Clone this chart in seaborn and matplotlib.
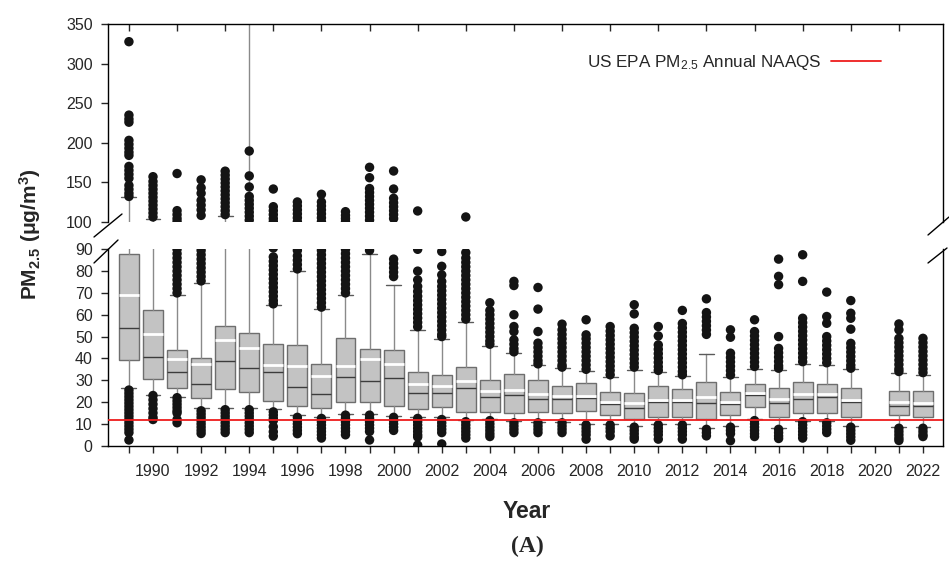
import matplotlib
matplotlib.use("Agg")
import matplotlib.pyplot as plt
from matplotlib.lines import Line2D
import seaborn as sns
import pandas as pd

# ---------------- data ----------------
years = [1989, 1990, 1991, 1992, 1993, 1994, 1995, 1996, 1997, 1998, 1999, 2000,
         2001, 2002, 2003, 2004, 2005, 2006, 2007, 2008, 2009, 2010, 2011, 2012,
         2013, 2014, 2015, 2016, 2017, 2018, 2019, 2021, 2022]
q1 = [39.3, 30.4, 26.3, 21.7, 25.8, 24.4, 20.6, 18.3, 17.1, 19.8, 19.8, 18.2,
      16.8, 17.9, 15.6, 15.3, 14.8, 15.3, 14.8, 15.9, 14.0, 12.2, 13.0, 13.3,
      12.2, 14.0, 17.9, 13.0, 14.8, 14.8, 13.0, 14.0, 13.0]
medians = [54.1, 40.7, 33.6, 28.3, 38.7, 35.5, 33.6, 26.7, 23.7, 31.3, 29.8, 31.2,
           24.0, 24.0, 26.3, 22.3, 23.2, 21.4, 21.4, 22.0, 19.1, 17.1, 19.9, 19.9,
           19.4, 19.3, 23.2, 19.5, 21.3, 22.5, 20.1, 18.3, 18.3]
q3 = [87.8, 62.2, 43.7, 40.0, 54.9, 51.5, 46.5, 46.0, 37.3, 49.2, 44.3, 43.9,
      33.9, 32.4, 35.9, 30.0, 32.9, 30.0, 27.4, 28.6, 24.8, 24.0, 27.4, 25.8,
      29.1, 24.8, 28.3, 26.3, 29.1, 28.1, 26.3, 25.1, 25.1]
means = [69.1, 51.1, 39.6, 37.3, 48.5, 44.6, 37.0, 36.5, 31.9, 36.7, 39.6, 37.3,
         28.3, 27.5, 29.6, 25.2, 25.5, 23.5, 22.6, 22.7, 20.2, 19.7, 20.9, 20.9,
         22.2, 20.0, 24.0, 21.6, 23.5, 23.5, 20.9, 20.2, 19.7]
whisker_low = [26.3, 23.2, 22.5, 17.1, 17.5, 17.5, 16.6, 14.0, 13.2, 14.5, 14.5, 13.6,
               13.0, 13.0, 11.7, 12.2, 11.3, 11.0, 11.0, 9.9, 9.9, 9.0, 9.9, 9.9,
               7.9, 9.0, 12.2, 7.9, 11.4, 11.3, 9.0, 8.7, 8.7]
whisker_high = [131.0, 103.4, 69.1, 74.5, 107.6, 400.0, 64.5, 79.9, 62.6, 69.1, 88.0, 73.7,
                53.1, 49.1, 56.9, 45.8, 42.4, 37.0, 35.5, 34.4, 31.3, 34.7, 33.9, 32.1,
                42.1, 31.3, 35.0, 34.8, 37.5, 37.0, 35.0, 33.2, 32.4]

outliers_high = [
    [328, 235, 230, 226, 203, 198, 193, 188, 184, 170, 165, 160, 155, 146, 141, 136, 132],
    [157, 151, 146, 141, 136, 131, 126, 121, 116, 111, 106],
    [70, 72, 74, 76, 78, 80, 82, 84, 86, 88, 90, 100, 104, 109, 114, 161],
    [75.5, 77.5, 79.5, 81.5, 83.5, 85.5, 87.5, 89.5, 108, 115, 121, 127, 136, 143, 153],
    [109, 114, 119, 124, 129, 134, 139, 144, 149, 154, 159, 164],
    [102, 107, 112, 117, 122, 127, 132, 144, 158, 189.5],
    [65, 66.5, 68.5, 70.5, 72.5, 74.5, 76.5, 78.5, 80.5, 82.5, 84.5, 86.5, 90.6,
     100, 104, 109, 114, 119, 141.4],
    [81, 83, 85, 87, 89.5, 100, 105, 110, 115, 120, 125],
    [63.5, 65.5, 67.5, 69.5, 71.5, 73.5, 75.5, 77.5, 79.5, 81.5, 83.5, 85.5, 87.5, 89.5,
     100, 105, 110, 115, 120, 125, 134.7],
    [70, 72, 74, 76, 78, 80, 82, 84, 86, 88, 90, 100, 104, 108, 112.7],
    [89.5, 102, 107, 112, 117, 122, 127, 132, 137, 142, 155.7, 168.9],
    [77.5, 79.5, 81.5, 83.5, 85.5, 104, 109, 114, 119, 124, 129.6, 141.4, 164.2],
    [54.5, 56.5, 58.5, 60.5, 62.5, 64.5, 66.5, 68.5, 70.7, 73, 76, 80, 90, 113.6],
    [50, 51, 53, 55, 57, 59, 61, 63, 65, 67, 69, 71, 73, 75.3, 78.3, 82.2, 89],
    [58, 60, 62, 64, 66, 68, 70, 72, 74, 76, 78, 80, 82, 84, 86, 88.5, 106],
    [46.5, 48, 50, 52, 54, 56, 58, 60, 62, 65.5],
    [43, 44.5, 46.5, 48.5, 52.3, 54.6, 60, 73.4, 75.3],
    [37.5, 39, 41, 43, 45, 47, 52.3, 62.6, 72.5],
    [36, 37, 39, 41, 43, 45, 47, 49, 51, 53.1, 55.7],
    [35, 37, 39, 41, 43, 45, 47, 49, 50.8, 57.7],
    [32.5, 34.5, 36.5, 38.5, 40.5, 42.5, 44.5, 46.5, 48.5, 50.5, 52.5, 54.6],
    [36, 37.8, 39.8, 41.8, 43.8, 45.8, 47.8, 49.8, 51.8, 53.8, 60.4, 64.6],
    [34.5, 36.2, 38.2, 40.2, 42.2, 44.2, 46.2, 50.3, 54.6],
    [32.5, 34, 36, 38, 40, 42, 44, 46, 48, 50, 52, 54, 56, 62],
    [51, 53, 55, 57, 59, 61, 67.3],
    [32.4, 34.4, 36.4, 38.4, 40.4, 42.4, 49.7, 53.1],
    [36.3, 38.3, 40.3, 42.3, 44.3, 46.3, 48.3, 50.3, 52.3, 57.7],
    [35.5, 36.6, 38.6, 40.6, 42.6, 44.6, 50, 73.8, 77.6, 85.5],
    [38.5, 40.4, 42.4, 44.4, 46.4, 48.4, 50.4, 52.4, 54.4, 56.4, 58.4, 75.3, 87.5],
    [38, 40, 42, 44, 46, 48, 50, 56.1, 59.2, 70.4],
    [35.5, 36.9, 38.9, 40.9, 42.9, 44.9, 46.9, 53.4, 58.4, 60.7, 66.5],
    [34, 35.2, 37.2, 39.2, 41.2, 43.2, 45.2, 47.2, 49.2, 53.1, 55.8],
    [33.5, 35.2, 37.2, 39.2, 41.2, 43.2, 45.2, 47.2, 49.2],
]
outliers_low = [
    [25.5, 24, 22.5, 21, 19.5, 18, 16.5, 15, 13.5, 12, 10.5, 9, 7.5, 6, 2.6],
    [23, 21, 19, 17, 15, 13, 12],
    [22, 20.5, 19, 17.5, 16, 15, 12, 10.5],
    [16, 14.5, 13, 11.5, 10, 8.5, 7, 5.6],
    [16.5, 15, 13.5, 12, 10.5, 9, 7.5, 6],
    [16.5, 15, 13.5, 12, 10.5, 9, 7.5, 6],
    [15.5, 14, 12.5, 11.5, 8.7, 6.4, 4.4],
    [13, 11.5, 10, 8.5, 7, 5.5],
    [12.5, 11, 9.5, 8, 6.5, 5, 3.5],
    [14, 12.5, 11, 9.5, 8, 6.5, 5],
    [14, 12.5, 11, 9.5, 8, 6.5, 2.6],
    [13, 11.5, 10, 8.5, 7],
    [12.5, 11, 9.5, 8, 6.5, 5, 4, 0.3],
    [12, 10.5, 9, 7.5, 6, 0.8],
    [11, 9.5, 8, 6.5, 5, 3.5],
    [11.5, 10, 8.5, 7, 5.5, 4.2],
    [10.5, 9, 7.5, 6],
    [10.5, 9, 7.5, 6],
    [10.5, 9, 7.5, 6],
    [9.5, 8, 6.5, 5, 3],
    [9.5, 8, 6.5, 4.5],
    [8.5, 7, 5.5, 4, 3],
    [9.5, 8, 6.5, 5, 3],
    [9.5, 8, 6.5, 5, 3],
    [7.5, 6, 4.5],
    [8.5, 7, 5.5, 2.3],
    [11.5, 10, 8.5, 7, 5.5, 4.2],
    [7.5, 6, 4.5, 3.3],
    [11, 9.5, 8, 6.5, 5, 3.5],
    [10.5, 9, 7.5, 6],
    [8.5, 7, 5.5, 4, 2.5],
    [8, 6.5, 5, 3.5, 2.4],
    [8, 6.5, 5, 4.2],
]
naaqs = 12
lower_ticks = [0, 10, 20, 30, 40, 50, 60, 70, 80, 90]
upper_ticks = [100, 150, 200, 250, 300, 350]
label_years = list(range(1990, 2023, 2))
odd_years = list(range(1989, 2022, 2))

# ---------------- style ----------------
sns.set_style("ticks")
plt.rcParams["font.family"] = ["Liberation Sans", "DejaVu Sans"]
plt.rcParams["mathtext.fontset"] = "custom"
plt.rcParams["mathtext.rm"] = "Liberation Sans"
plt.rcParams["mathtext.it"] = "Liberation Sans:italic"
plt.rcParams["mathtext.bf"] = "Liberation Sans:bold"

W, H = 949, 564
fig = plt.figure(figsize=(W / 100, H / 100), dpi=100)
fig.patch.set_facecolor("white")

def fx(px):
    return px / W

def fy(py):
    return 1 - py / H

ax_top = fig.add_axes([fx(108), fy(221.7), fx(942.7) - fx(108), fy(24.3) - fy(221.7)])
ax_bot = fig.add_axes([fx(108), fy(445.7), fx(942.7) - fx(108), fy(249.3) - fy(445.7)])

stats = []
for i, yr in enumerate(years):
    stats.append(dict(med=medians[i], q1=q1[i], q3=q3[i], mean=means[i],
                      whislo=whisker_low[i], whishi=whisker_high[i], fliers=[]))

rows = []
for i, yr in enumerate(years):
    for v in outliers_high[i] + outliers_low[i]:
        rows.append((yr, v))
df_out = pd.DataFrame(rows, columns=["year", "value"])

for ax in (ax_top, ax_bot):
    ax.set_facecolor("white")
    ax.bxp(stats, positions=years, widths=0.83, capwidths=0.62, patch_artist=True,
           showmeans=True, meanline=True, showfliers=False, manage_ticks=False,
           boxprops=dict(facecolor="#c3c3c3", edgecolor="#6e6e6e", linewidth=1.0),
           medianprops=dict(color="#3c3c3c", linewidth=1.0),
           meanprops=dict(color="white", linewidth=2.0, linestyle="-"),
           whiskerprops=dict(color="#8a8a8a", linewidth=1.0),
           capprops=dict(color="#5a5a5a", linewidth=1.0))
    sns.scatterplot(data=df_out, x="year", y="value", ax=ax, color="#141414",
                    s=46, edgecolor="none", linewidth=0, legend=False, zorder=3)
    ax.set_xlim(1988.13, 2022.82)
    ax.set_xlabel("")
    ax.set_ylabel("")
    for s in ax.spines.values():
        s.set_color("black")
        s.set_linewidth(1.0)

naaqs_line = ax_bot.axhline(naaqs, color="#ee1c1c", linewidth=1.3, zorder=5,
                            label="US EPA PM$_{2.5}$ Annual NAAQS")

# lower axis
ax_bot.set_ylim(0, 90)
ax_bot.set_yticks(lower_ticks)
ax_bot.spines["top"].set_visible(False)
ax_bot.set_xticks(label_years)
ax_bot.set_xticklabels([str(y) for y in label_years])
ax_bot.set_xticks(odd_years, minor=True)
ax_bot.tick_params(axis="x", which="both", direction="out", length=5, width=1,
                   top=False, bottom=True, labelsize=11.5, pad=8.5)
ax_bot.tick_params(axis="y", direction="out", length=5, width=1, right=False,
                   labelsize=11.5, pad=6)

# upper axis
ax_top.set_ylim(100, 350)
ax_top.set_yticks(upper_ticks)
ax_top.spines["bottom"].set_visible(False)
ax_top.set_xticks(odd_years)
ax_top.tick_params(axis="x", direction="in", length=4.8, width=1, top=True,
                   bottom=False, labeltop=False, labelbottom=False)
ax_top.tick_params(axis="y", direction="out", length=5, width=1, right=False,
                   labelsize=11.5, pad=6)

# legend
ax_top.legend(handles=[naaqs_line], labels=["US EPA PM$_{2.5}$ Annual NAAQS"],
              markerfirst=False, frameon=False, loc="center right",
              bbox_to_anchor=(fx(881), fy(62.7)), bbox_transform=fig.transFigure,
              borderpad=0, borderaxespad=0, handlelength=2.9, handletextpad=0.6,
              fontsize=12.3)

# axis break marks
for (x0, y0, x1, y1) in [(94, 237, 122, 214), (94, 263, 118, 240),
                         (928, 235, 949, 217), (928, 263, 947, 248)]:
    fig.add_artist(Line2D([fx(x0), fx(x1)], [fy(y0), fy(y1)], color="black",
                          linewidth=1.0, transform=fig.transFigure))

# labels
fig.text(fx(30), fy(234), r"PM$_{\mathbf{2.5}}$ ($\mathbf{\mu}$g/m$^{\mathbf{3}}$)",
         rotation=90, ha="center", va="center", fontsize=15, fontweight="bold")
fig.text(fx(527), fy(511), "Year", ha="center", va="center", fontsize=16.5,
         fontweight="bold")
fig.text(fx(527), fy(546), "(A)", ha="center", va="center", fontsize=17,
         fontweight="bold", family=["Liberation Serif", "DejaVu Serif"])

fig.savefig("out.png", dpi=100, facecolor="white")
